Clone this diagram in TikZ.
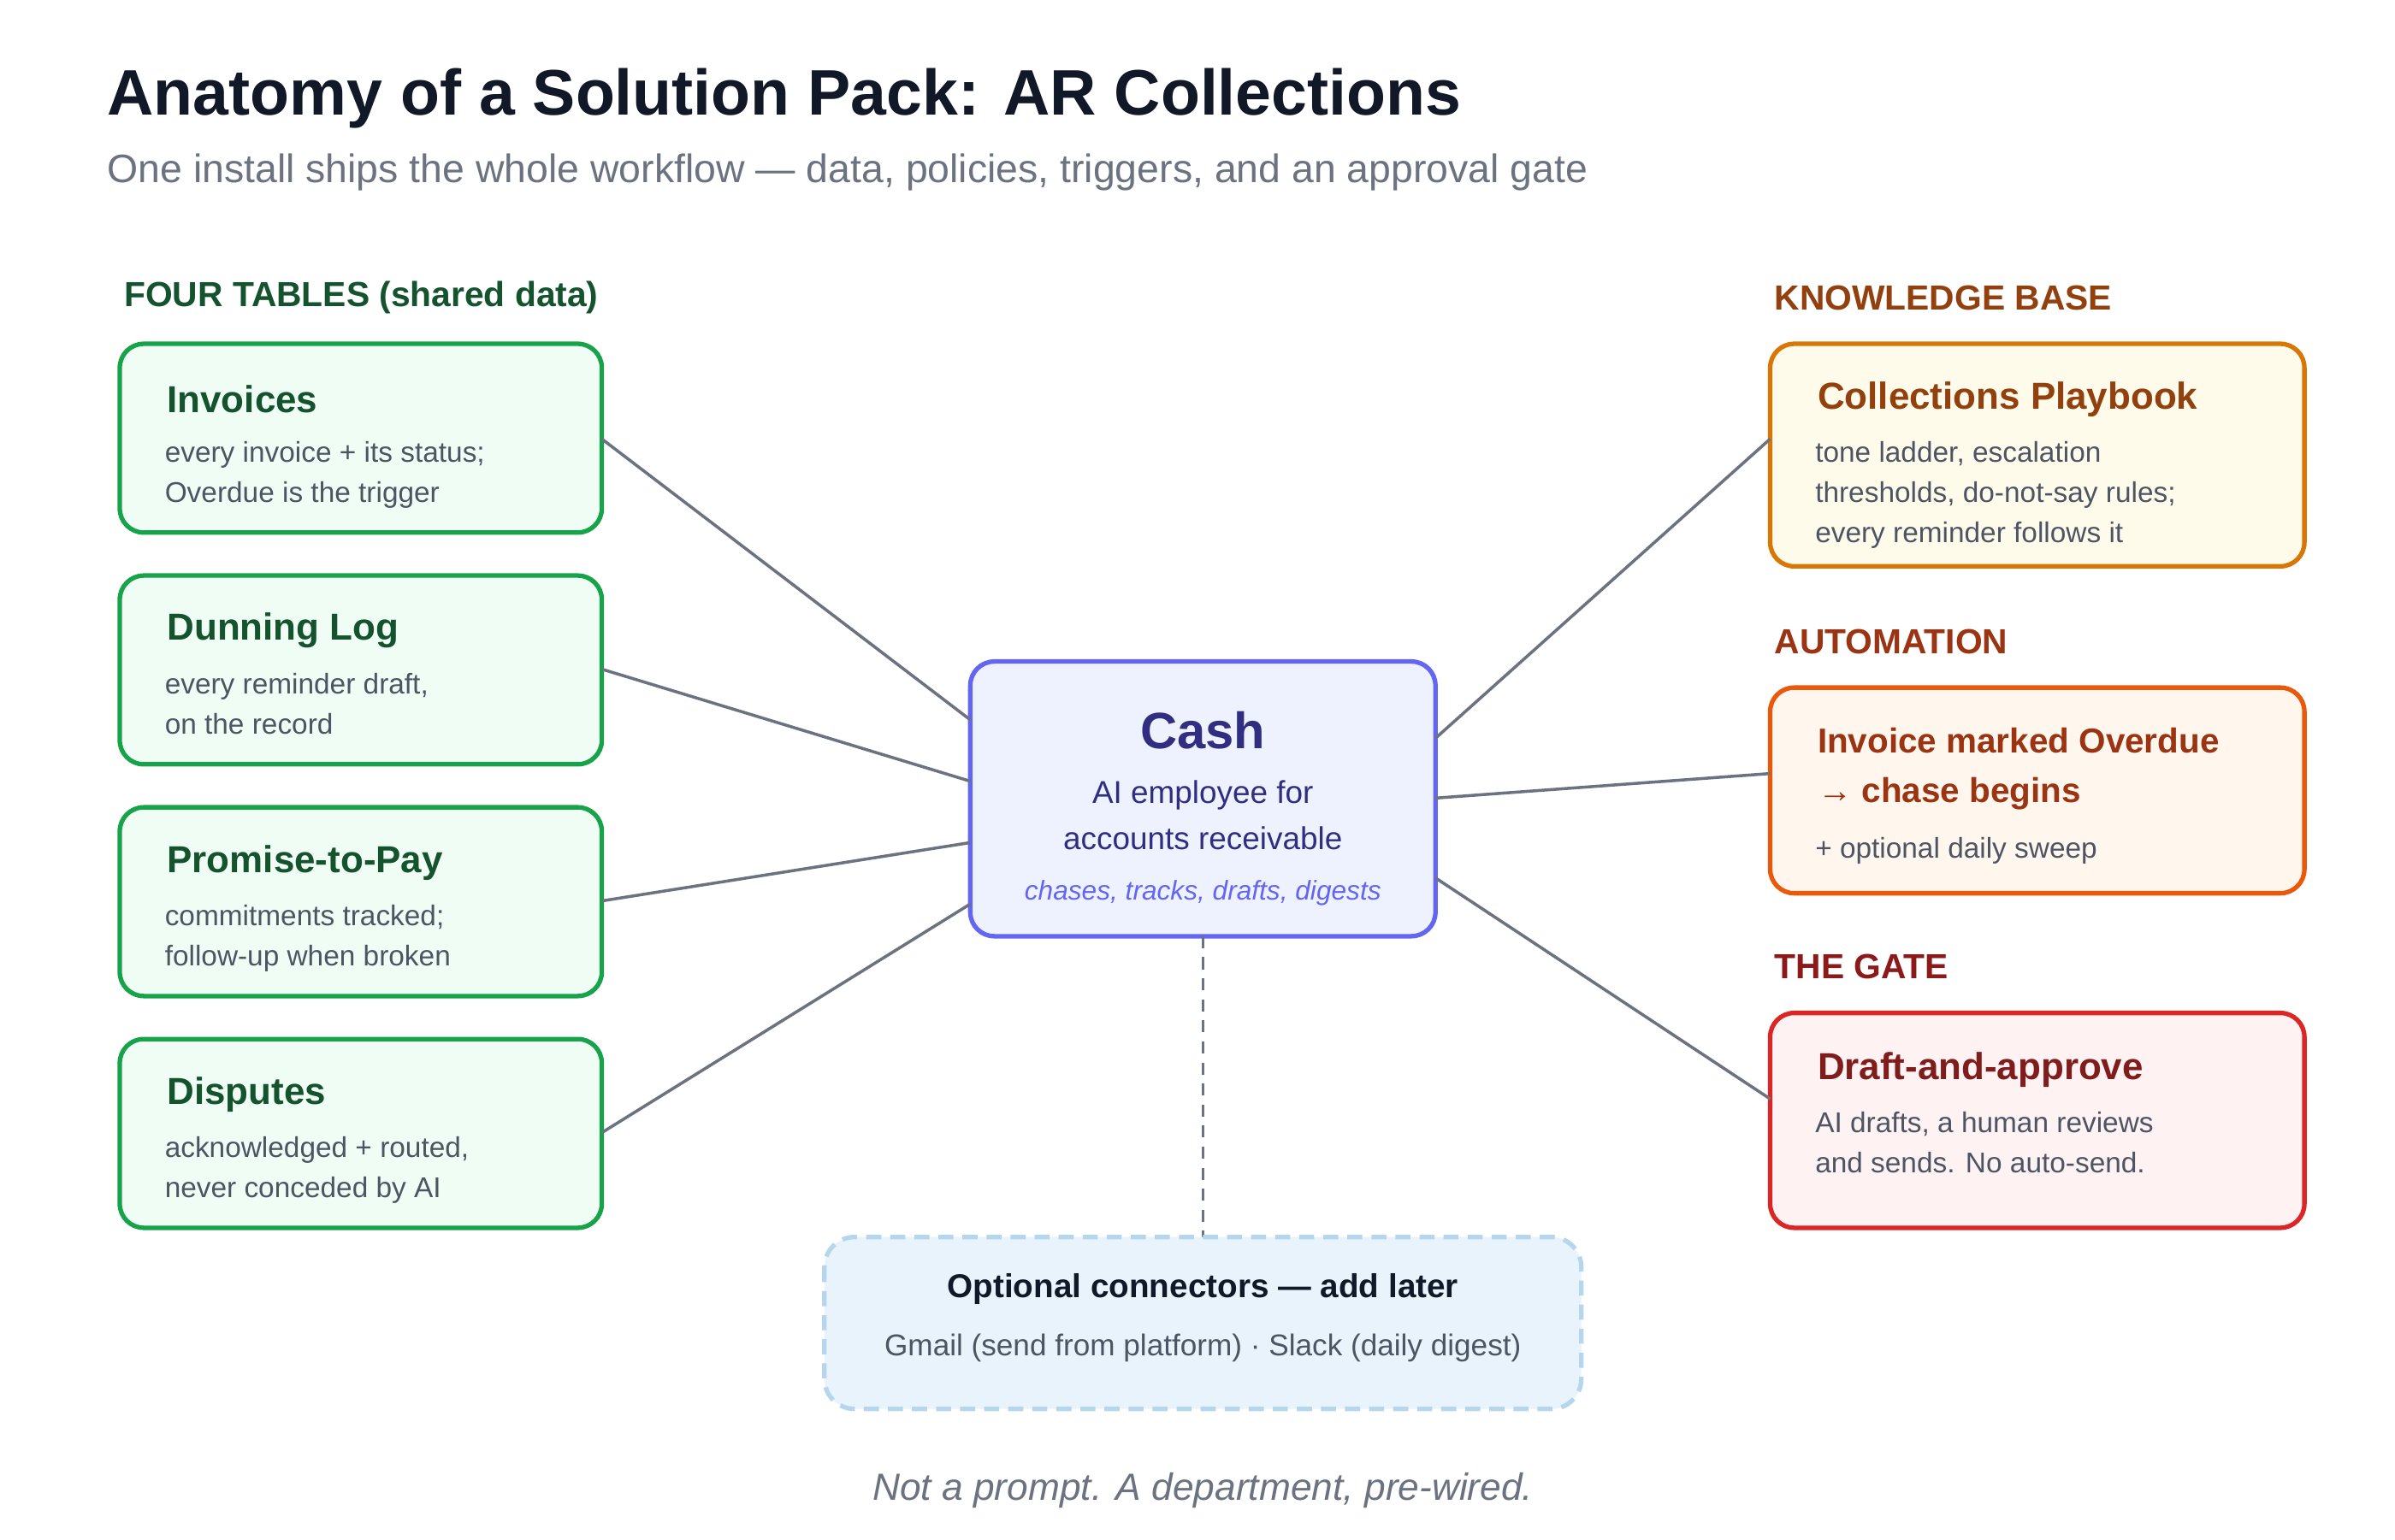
\documentclass[tikz,border=0pt]{standalone}
\usepackage{fontspec}
\setmainfont{Liberation Sans}
\usetikzlibrary{positioning}
\definecolor{grnB}{HTML}{16A34A}\definecolor{grnF}{HTML}{F0FDF4}\definecolor{grnT}{HTML}{14532D}
\definecolor{ambB}{HTML}{D97706}\definecolor{ambF}{HTML}{FFFBEB}\definecolor{ambT}{HTML}{92400E}
\definecolor{orgB}{HTML}{EA580C}\definecolor{orgF}{HTML}{FFF7ED}\definecolor{orgT}{HTML}{9A3412}
\definecolor{redB}{HTML}{DC2626}\definecolor{redF}{HTML}{FEF2F2}\definecolor{redT}{HTML}{7F1D1D}
\definecolor{indB}{HTML}{6366F1}\definecolor{indF}{HTML}{EEF2FF}\definecolor{indT}{HTML}{312E81}
\definecolor{bluB}{HTML}{B6D6EE}\definecolor{bluF}{HTML}{E8F3FB}
\definecolor{ink}{HTML}{111827}\definecolor{sub}{HTML}{6B7280}\definecolor{body}{HTML}{4B5563}
\definecolor{wire}{HTML}{6B7280}
\begin{document}
\begin{tikzpicture}[x=0.01795cm,y=-0.01795cm]
\tikzset{
  card/.style={draw=#1B, fill=#1F, line width=1.5pt, rounded corners=8pt},
  head/.style={anchor=west, font=\fontsize{11.6}{13}\selectfont\bfseries},
  ttl/.style={anchor=west, font=\fontsize{12.5}{15}\selectfont\bfseries},
  txt/.style={anchor=north west, align=left, text=body, inner sep=0pt,
    font=\fontsize{9.5}{13.4}\selectfont},
  wire/.style={draw=wire, line width=1pt},
}
\useasboundingbox (0,0) rectangle (1560,1003);
\fill[white] (0,0) rectangle (1560,1003);

% title
\node[anchor=west, text=ink, font=\fontsize{21.4}{26}\selectfont\bfseries] (title) at (63,64) {Anatomy of a Solution Pack: AR Collections};
\node[anchor=west, text=sub, font=\fontsize{13.2}{15}\selectfont] (subtitle) at (63,112) {One install ships the whole workflow — data, policies, triggers, and an approval gate};

% section heads
\node[head, text=grnT] (hTables) at (74,194) {FOUR TABLES (shared data)};
\node[head, text=ambT] (hKb) at (1149,194) {KNOWLEDGE BASE};
\node[head, text=orgT] (hAuto) at (1149,418) {AUTOMATION};
\node[head, text=redT!90!red] (hGate) at (1149,630) {THE GATE};

% left cards
\draw[card=grn] (78,224) rectangle (392,347);
\draw[card=grn] (78,375) rectangle (392,498);
\draw[card=grn] (78,526) rectangle (392,649);
\draw[card=grn] (78,677) rectangle (392,800);
\coordinate (inv) at (392,286);
\coordinate (dun) at (392,436);
\coordinate (ptp) at (392,587);
\coordinate (dis) at (392,738);
\node[ttl, text=grnT] at (102,260) {Invoices};
\node[txt] at (107,287) {every invoice + its status;\\Overdue is the trigger};
\node[ttl, text=grnT] at (102,411) {Dunning Log};
\node[txt] at (107,438) {every reminder draft,\\on the record};
\node[ttl, text=grnT] at (102,562) {Promise-to-Pay};
\node[txt] at (107,589) {commitments tracked;\\follow-up when broken};
\node[ttl, text=grnT] at (102,713) {Disputes};
\node[txt] at (107,740) {acknowledged + routed,\\never conceded by AI};

% right cards
\draw[card=amb] (1153,224) rectangle (1501,369);
\draw[card=org] (1153,448) rectangle (1501,582);
\draw[card=red] (1153,660) rectangle (1501,800);
\coordinate (kb) at (1153,286);
\coordinate (auto) at (1153,504);
\coordinate (gate) at (1153,716);
\node[ttl, text=ambT] at (1177,260) {Collections Playbook};
\node[txt] at (1182,287) {tone ladder, escalation\\thresholds, do-not-say rules;\\every reminder follows it};
\node[ttl, text=orgT, align=left, font=\fontsize{11.5}{16.5}\selectfont\bfseries] at (1177,501) {Invoice marked Overdue\\→ chase begins};
\node[txt] at (1182,545) {+ optional daily sweep};
\node[ttl, text=redT] at (1177,697) {Draft-and-approve};
\node[txt] at (1182,724) {AI drafts, a human reviews\\and sends. No auto-send.};

% centre
\draw[card=ind] (632,431) rectangle (935,610);
\node[text=indT, font=\fontsize{17}{20}\selectfont\bfseries] (cash) at (783.5,476) {Cash};
\node[text=indT, align=center, font=\fontsize{10.5}{15.5}\selectfont] at (783.5,531) {AI employee for\\accounts receivable};
\node[text=indB, font=\fontsize{9}{11}\selectfont\itshape] at (783.5,582) {chases, tracks, drafts, digests};

% connectors
\draw[wire] (inv) -- (632,469);
\draw[wire] (dun) -- (632,509);
\draw[wire] (ptp) -- (632,549);
\draw[wire] (dis) -- (632,589);
\draw[wire] (935,481) -- (kb);
\draw[wire] (935,520) -- (auto);
\draw[wire] (935,572) -- (gate);
\draw[wire, dash pattern=on 4pt off 3pt] (783.5,610) -- (783.5,806);

% optional connectors
\draw[draw=bluB, fill=bluF, line width=1.5pt, rounded corners=10pt, dash pattern=on 5pt off 3pt] (537,806) rectangle (1030,918);
\node[text=ink, font=\fontsize{11}{13}\selectfont\bfseries] (opt) at (783.5,840) {Optional connectors — add later};
\node[text=body, font=\fontsize{10}{12}\selectfont] at (783.5,878) {Gmail (send from platform) · Slack (daily digest)};

% footer
\node[text=sub, font=\fontsize{12.6}{14}\selectfont\itshape] (foot) at (783.5,971) {Not a prompt. A department, pre-wired.};
\end{tikzpicture}
\end{document}
